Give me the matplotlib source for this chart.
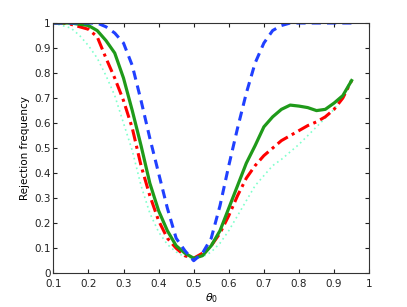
import numpy as np
import matplotlib
matplotlib.use("Agg")
import matplotlib.pyplot as plt

theta0 = [0.1, 0.125, 0.15, 0.175, 0.2, 0.225, 0.25, 0.275, 0.3, 0.325,
          0.35, 0.375, 0.4, 0.425, 0.45, 0.475, 0.5, 0.525, 0.55, 0.575,
          0.6, 0.625, 0.65, 0.675, 0.7, 0.725, 0.75, 0.775, 0.8, 0.825,
          0.85, 0.875, 0.9, 0.925, 0.95]

blue = [1.0, 1.0, 1.0, 1.0, 1.0, 1.0, 0.985, 0.96, 0.92, 0.83,
        0.69, 0.54, 0.40, 0.26, 0.14, 0.09, 0.05, 0.08, 0.14, 0.27,
        0.43, 0.58, 0.72, 0.84, 0.92, 0.97, 0.99, 1.0, 1.0, 1.0,
        1.0, 1.0, 1.0, 1.0, 1.0]

green = [1.0, 1.0, 1.0, 0.995, 0.99, 0.97, 0.93, 0.88, 0.78, 0.65,
         0.51, 0.36, 0.25, 0.17, 0.11, 0.08, 0.06, 0.07, 0.11, 0.17,
         0.26, 0.35, 0.44, 0.51, 0.585, 0.625, 0.655, 0.672, 0.668, 0.662,
         0.65, 0.655, 0.68, 0.71, 0.77]

red = [1.0, 1.0, 0.995, 0.985, 0.975, 0.945, 0.86, 0.78, 0.69, 0.58,
       0.43, 0.31, 0.21, 0.14, 0.10, 0.07, 0.06, 0.08, 0.11, 0.16,
       0.23, 0.31, 0.38, 0.43, 0.47, 0.50, 0.53, 0.55, 0.57, 0.59,
       0.605, 0.625, 0.655, 0.70, 0.77]

cyan = [1.0, 0.99, 0.98, 0.95, 0.91, 0.86, 0.79, 0.71, 0.60, 0.49,
        0.35, 0.24, 0.165, 0.115, 0.085, 0.065, 0.06, 0.065, 0.085, 0.12,
        0.17, 0.23, 0.29, 0.35, 0.39, 0.43, 0.455, 0.485, 0.515, 0.55,
        0.585, 0.62, 0.655, 0.71, 0.78]

xticks = [0.1, 0.2, 0.3, 0.4, 0.5, 0.6, 0.7, 0.8, 0.9, 1]
yticks = [0, 0.1, 0.2, 0.3, 0.4, 0.5, 0.6, 0.7, 0.8, 0.9, 1]

fig = plt.figure(figsize=(4.07, 3.07), dpi=100)
ax = fig.add_axes([0.131, 0.11, 0.776, 0.815])

ax.plot(theta0, cyan, color="#7fffcc", linestyle=(0, (1, 2)), linewidth=1.2)
ax.plot(theta0, red, color="#ff0000", linestyle=(0, (4, 1.5, 1, 1.5)), linewidth=2.2)
ax.plot(theta0, green, color="#1f9a1a", linestyle="-", linewidth=2.3)
ax.plot(theta0, blue, color="#2040ff", linestyle=(0, (3, 2)), linewidth=2.2)

ax.set_xlim(0.1, 1)
ax.set_ylim(0, 1)
ax.set_xticks(xticks)
ax.set_xticklabels([("%g" % t) for t in xticks])
ax.set_yticks(yticks)
ax.set_yticklabels([("%g" % t) for t in yticks])
ax.tick_params(direction="in", top=True, right=True, labelsize=7.5, length=3,
               colors="#222222")
ax.tick_params(axis="x", pad=4.5)
ax.tick_params(axis="y", pad=2)
for s in ax.spines.values():
    s.set_color("#333333")
    s.set_linewidth(0.8)

ax.set_xlabel(r"$\theta_0$", fontsize=8, labelpad=1)
ax.set_ylabel("Rejection frequency", fontsize=7.5, labelpad=3)

fig.savefig("out.png", dpi=100)
